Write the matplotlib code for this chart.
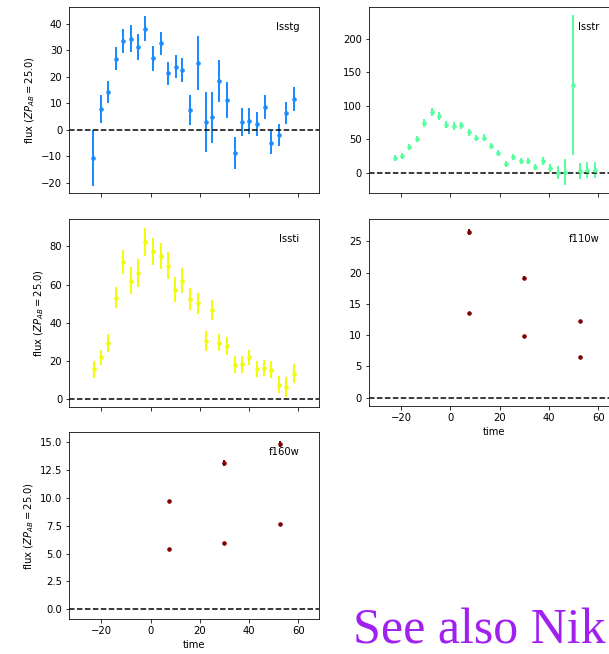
import matplotlib
matplotlib.use("Agg")
import matplotlib.pyplot as plt

# ---- data ----
g_time = [-23.2, -20.0, -17.2, -13.9, -11.0, -8.1, -5.0, -2.3, 1.1, 4.1, 7.2, 10.2, 12.9, 16.1,
          19.1, 22.3, 25.0, 27.9, 31.1, 34.1, 37.2, 40.1, 43.3, 46.3, 49.0, 52.1, 55.1, 58.4]
g_flux = [-10.6, 7.9, 14.3, 26.9, 33.5, 34.5, 31.3, 38.2, 27.0, 32.7, 21.4, 23.9, 22.6, 7.4,
          25.2, 3.0, 4.8, 18.4, 11.3, -8.7, 3.0, 3.4, 2.1, 8.7, -4.8, -1.8, 6.4, 11.7]
g_err = [10.4, 5.4, 4.1, 4.3, 4.6, 5.2, 4.8, 4.7, 4.7, 4.3, 4.3, 4.2, 4.4, 5.7,
         10.3, 11.5, 9.6, 8.0, 6.8, 6.2, 5.3, 4.8, 4.5, 4.6, 4.4, 4.2, 4.3, 4.4]

r_time = [-22.3, -19.5, -16.6, -13.5, -10.5, -7.4, -4.5, -1.6, 1.5, 4.5, 7.6, 10.4, 13.6, 16.6,
          19.5, 22.6, 25.5, 28.6, 31.5, 34.5, 37.6, 40.5, 43.6, 46.6, 49.7, 52.6, 55.5, 58.6]
r_flux = [21.4, 25.4, 38.4, 50.4, 74.3, 90.8, 84.3, 71.8, 69.8, 70.8, 60.3, 51.9, 52.4, 39.9,
          29.4, 13.5, 23.9, 17.5, 17.5, 9.0, 17.5, 7.0, 0.0, 1.0, 131.0, 3.0, 4.0, 4.0]
r_err = [4.5, 4.5, 4.5, 5.0, 5.5, 6.0, 6.0, 5.5, 5.5, 5.5, 5.5, 5.0, 5.0, 5.0,
         4.5, 4.5, 4.5, 4.5, 4.5, 4.5, 5.5, 5.5, 9.5, 20.0, 104.0, 12.0, 12.0, 12.0]

i_time = [-23.1, -20.0, -17.2, -13.9, -11.0, -8.1, -5.0, -2.3, 1.1, 4.1, 7.2, 10.1, 12.8, 16.1,
          19.1, 22.3, 25.0, 27.8, 31.1, 34.1, 37.2, 40.0, 43.2, 46.2, 48.9, 52.0, 55.0, 58.2]
i_flux = [15.6, 21.9, 29.6, 53.2, 71.9, 62.1, 66.0, 82.3, 77.4, 75.1, 70.0, 57.4, 62.1, 52.5,
          50.2, 30.5, 46.7, 29.6, 27.8, 18.0, 18.2, 21.9, 15.8, 16.3, 15.4, 7.4, 6.3, 13.3]
i_err = [4.4, 4.0, 4.7, 5.6, 6.1, 7.2, 7.2, 7.3, 7.2, 6.9, 7.0, 6.4, 6.4, 5.7,
         5.4, 5.3, 5.1, 4.4, 4.6, 4.4, 4.4, 4.0, 4.2, 4.2, 4.4, 4.5, 5.4, 5.0]

f110_time = [7.6, 7.6, 30.1, 30.1, 52.6, 52.6]
f110_flux = [26.55, 13.6, 19.2, 9.9, 12.2, 6.5]
f110_err = [0.45, 0.15, 0.3, 0.12, 0.12, 0.1]

f160_time = [7.6, 7.6, 30.0, 30.0, 52.4, 52.4]
f160_flux = [9.71, 5.38, 13.1, 5.92, 14.82, 7.65]
f160_err = [0.1, 0.08, 0.25, 0.08, 0.3, 0.08]

bands = ["lsstg", "lsstr", "lssti", "f110w", "f160w"]
colors = ["#1a8cff", "#58ff9f", "#f1fc06", "#800000", "#800000"]
ylims = [(-23.8, 46.4), (-31, 248), (-4.2, 94.4), (-1.33, 28.6), (-0.87, 15.9)]
xticks = [-20, 0, 20, 40, 60]
f160_yticks = [0.0, 2.5, 5.0, 7.5, 10.0, 12.5, 15.0]
xlim = (-33, 68.5)

W, H = 609, 654
fig = plt.figure(figsize=(W / 72, H / 72), dpi=72)

# pixel boxes: (left, top, right, bottom)
boxes = [(69.3, 7, 319.3, 193), (369, 6.7, 619, 193.3),
         (69.3, 219, 319.3, 407), (369, 219, 619, 406),
         (69.3, 432, 319.3, 619)]

data = [(g_time, g_flux, g_err), (r_time, r_flux, r_err), (i_time, i_flux, i_err),
        (f110_time, f110_flux, f110_err), (f160_time, f160_flux, f160_err)]

ylabel = r"flux ($ZP_{AB} = 25.0$)"
for k, (band, col, yl, box, (t, f, e)) in enumerate(zip(bands, colors, ylims, boxes, data)):
    l, tp, r, b = box
    ax = fig.add_axes([l / W, 1 - b / H, (r - l) / W, (b - tp) / H])
    ax.errorbar(t, f, yerr=e, ls="None", color=col, marker=".", markersize=7, elinewidth=2)
    ax.axhline(0.0, ls="--", color="k", lw=1.5)
    ax.set_xlim(*xlim)
    ax.set_ylim(*yl)
    ax.set_xticks(xticks)
    if band == "f160w":
        ax.set_yticks(f160_yticks)
    ax.text(0.92, 0.92, band, transform=ax.transAxes, ha="right", va="top", fontsize=10)
    if k in (0, 2, 4):
        ax.set_ylabel(ylabel, fontsize=10)
    if k in (3, 4):
        ax.set_xlabel("time", fontsize=10)
    else:
        ax.tick_params(labelbottom=False)

fig.text(353 / W, 1 - 643 / H, "See also Nik", family="Liberation Serif", fontsize=50,
         color="#A020F0", ha="left", va="baseline")

fig.savefig("out.png", dpi=72)
